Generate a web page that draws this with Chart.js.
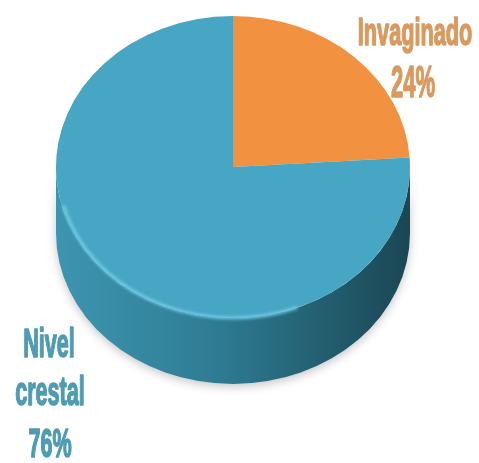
<!DOCTYPE html>
<html>
<head>
<meta charset="utf-8">
<script src="https://cdn.jsdelivr.net/npm/chart.js@4"></script>
<style>
  html, body { margin: 0; padding: 0; background: #fff; }
  #wrap { width: 479px; height: 463px; }
</style>
</head>
<body>
<div id="wrap"><canvas id="myChart" width="479" height="463"></canvas></div>
<script>
var categories = ['Invaginado', 'Nivel crestal'];
var values = [24, 76];
var sliceColors = ['#f2913f', '#47a6c4'];
var labelColors = ['#d99a60', '#4f9cb2'];

// where the tilted disc sits on the page
var disc = { x: 233, y: 167, rx: 177, ry: 151, depth: 66 };

function label(ctx, text, x, y, size, sx, color) {
    ctx.save();
    ctx.translate(x, y);
    ctx.scale(sx, 1);
    ctx.font = 'bold ' + size + 'px "Liberation Sans", Arial, sans-serif';
    ctx.textAlign = 'center';
    ctx.textBaseline = 'alphabetic';
    ctx.fillStyle = color;
    ctx.strokeStyle = color;
    ctx.lineWidth = 1.6;
    ctx.lineJoin = 'round';
    ctx.fillText(text, 0, 0);
    ctx.strokeText(text, 0, 0);
    ctx.restore();
}

var pie3d = {
    id: 'pie3d',
    beforeDatasetsDraw: function(chart) {
        var ctx = chart.ctx;
        var arcs = chart.getDatasetMeta(0).data;

        // side wall, only the front half is visible
        var grad = ctx.createLinearGradient(disc.x - disc.rx, 0, disc.x + disc.rx, 0);
        grad.addColorStop(0, '#3e95b0');
        grad.addColorStop(0.45, '#2e7c94');
        grad.addColorStop(0.75, '#235f70');
        grad.addColorStop(1, '#1b4654');
        arcs.forEach(function(arc, i) {
            var s = Math.max(arc.startAngle, 0);
            var e = Math.min(arc.endAngle, Math.PI);
            if (e <= s) return;
            ctx.save();
            ctx.beginPath();
            ctx.ellipse(disc.x, disc.y, disc.rx, disc.ry, 0, s, e);
            ctx.lineTo(disc.x + disc.rx * Math.cos(e), disc.y + disc.depth + disc.ry * Math.sin(e));
            ctx.ellipse(disc.x, disc.y + disc.depth, disc.rx, disc.ry, 0, e, s, true);
            ctx.closePath();
            ctx.shadowColor = 'rgba(0,0,0,0.22)';
            ctx.shadowBlur = 10;
            ctx.shadowOffsetY = 3;
            ctx.fillStyle = i === 1 ? grad : '#c46d22';
            ctx.fill();
            ctx.restore();
        });

        // squash the round pie into the disc top
        var a = arcs[0];
        var k = a.outerRadius;
        ctx.save();
        ctx.translate(disc.x, disc.y);
        ctx.scale(disc.rx / k, disc.ry / k);
        ctx.translate(-a.x, -a.y);
    },
    afterDatasetsDraw: function(chart) {
        var ctx = chart.ctx;
        ctx.restore();

        // light rim along the front edge
        ctx.save();
        ctx.beginPath();
        ctx.ellipse(disc.x, disc.y + 1, disc.rx - 2, disc.ry - 1, 0, 0.38 * Math.PI, 0.92 * Math.PI);
        ctx.strokeStyle = 'rgba(120, 210, 236, 0.9)';
        ctx.lineWidth = 3;
        ctx.filter = 'blur(1.5px)';
        ctx.stroke();
        ctx.restore();

        var ds = chart.data.datasets[0];
        var c0 = labelColors[0], c1 = labelColors[1];
        label(ctx, chart.data.labels[0], 415, 45, 38, 0.57, c0);
        label(ctx, ds.data[0] + '%', 413, 97, 44, 0.5, c0);
        var words = chart.data.labels[1].split(' ');
        label(ctx, words[0], 49, 357, 40, 0.54, c1);
        label(ctx, words[1], 50, 405, 40, 0.54, c1);
        label(ctx, ds.data[1] + '%', 50, 457, 40, 0.54, c1);
    }
};

var ctx = document.getElementById('myChart').getContext('2d');
var myChart = new Chart(ctx, {
    type: 'pie',
    data: {
        labels: categories,
        datasets: [{
            data: values,
            backgroundColor: sliceColors,
            borderWidth: 0,
            clip: false
        }]
    },
    options: {
        responsive: false,
        animation: false,
        events: [],
        layout: { padding: 40 },
        plugins: {
            legend: { display: false },
            tooltip: { enabled: false }
        }
    },
    plugins: [pie3d]
});
</script>
</body>
</html>
